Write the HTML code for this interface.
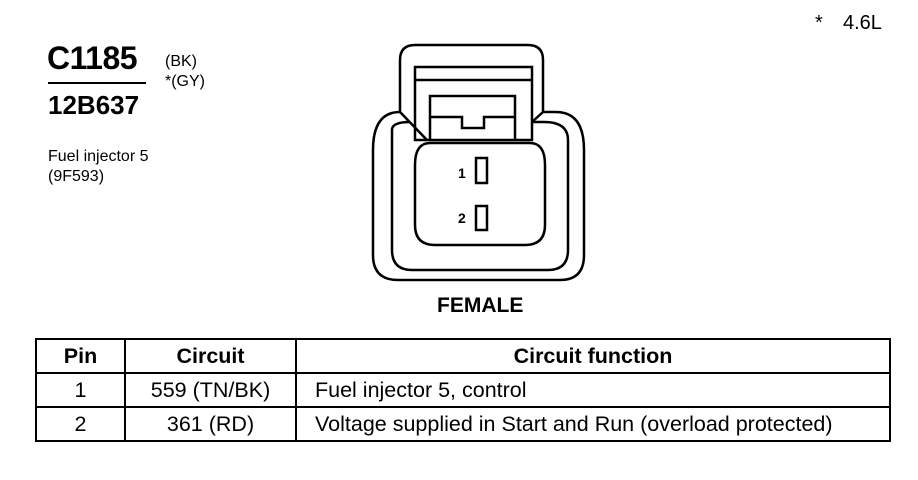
<!DOCTYPE html>
<html><head><style>
body{margin:0;width:918px;height:480px;background:#fff;position:relative;font-family:"Liberation Sans",sans-serif;color:#000;overflow:hidden}
.a{position:absolute;white-space:nowrap}
table{position:absolute;left:35px;top:338px;border-collapse:collapse;font-size:21.5px}
td{border:2px solid #000;text-align:center;height:32px;padding:0;line-height:30px}
</style></head><body>
<div class="a" style="left:815px;top:12px;font-size:20px">*</div>
<div class="a" style="left:843px;top:12px;font-size:20px">4.6L</div>
<div class="a" style="left:47px;top:40px;font-size:32px;font-weight:bold;letter-spacing:-0.5px">C1185</div>
<div style="position:absolute;left:48px;top:82px;width:98px;border-top:2px solid #000"></div>
<div class="a" style="left:48px;top:90px;font-size:26px;font-weight:bold">12B637</div>
<div class="a" style="left:165px;top:52px;font-size:16px;line-height:20px">(BK)<br>*(GY)</div>
<div class="a" style="left:48px;top:147px;font-size:16px;line-height:20px">Fuel injector 5<br>(9F593)</div>
<svg style="position:absolute;left:0;top:0" width="918" height="480">
<g fill="none" stroke="#000" stroke-width="2.5">
<path d="M400 112 L400 60 Q400 45 415 45 L528 45 Q543 45 543 60 L543 112"/>
<path d="M400 112 Q373 112 373 150 L373 255 Q373 280 398 280 L560 280 Q584 280 584 255 L584 150 Q584 112 556 112 L543 112"/>
<path d="M392 130 Q392 122 410 122 M392 130 L392 250 Q392 270 412 270 L548 270 Q568 270 568 250 L568 140 Q568 122 544 122 L532 122"/>
<path d="M400 112 L427 140 M543 112 L532 122"/>
<rect x="415" y="67" width="117" height="73"/>
<line x1="415" y1="80" x2="532" y2="80"/>
<path d="M430 140 L430 96 L515 96 L515 140"/>
<path d="M430 117 L462 117 L462 128 L484 128 L484 117 L515 117"/>
<path d="M430 143 L530 143 Q545 143 545 165 L545 225 Q545 245 525 245 L435 245 Q415 245 415 225 L415 165 Q415 143 430 143 Z" fill="#fff"/>
<rect x="476" y="158" width="11" height="25"/>
<rect x="476" y="206" width="11" height="24"/>
</g>
<text x="458" y="178" font-size="14" font-weight="bold" font-family="Liberation Sans">1</text>
<text x="458" y="223" font-size="14" font-weight="bold" font-family="Liberation Sans">2</text>
</svg>
<div class="a" style="left:437px;top:294px;font-size:21px;font-weight:bold">FEMALE</div>
<table>
<tr style="font-weight:bold"><td style="width:87px">Pin</td><td style="width:169px">Circuit</td><td style="width:592px">Circuit function</td></tr>
<tr><td>1</td><td>559 (TN/BK)</td><td style="text-align:left;padding-left:18px">Fuel injector 5, control</td></tr>
<tr><td>2</td><td>361 (RD)</td><td style="text-align:left;padding-left:18px">Voltage supplied in Start and Run (overload protected)</td></tr>
</table>
</body></html>
